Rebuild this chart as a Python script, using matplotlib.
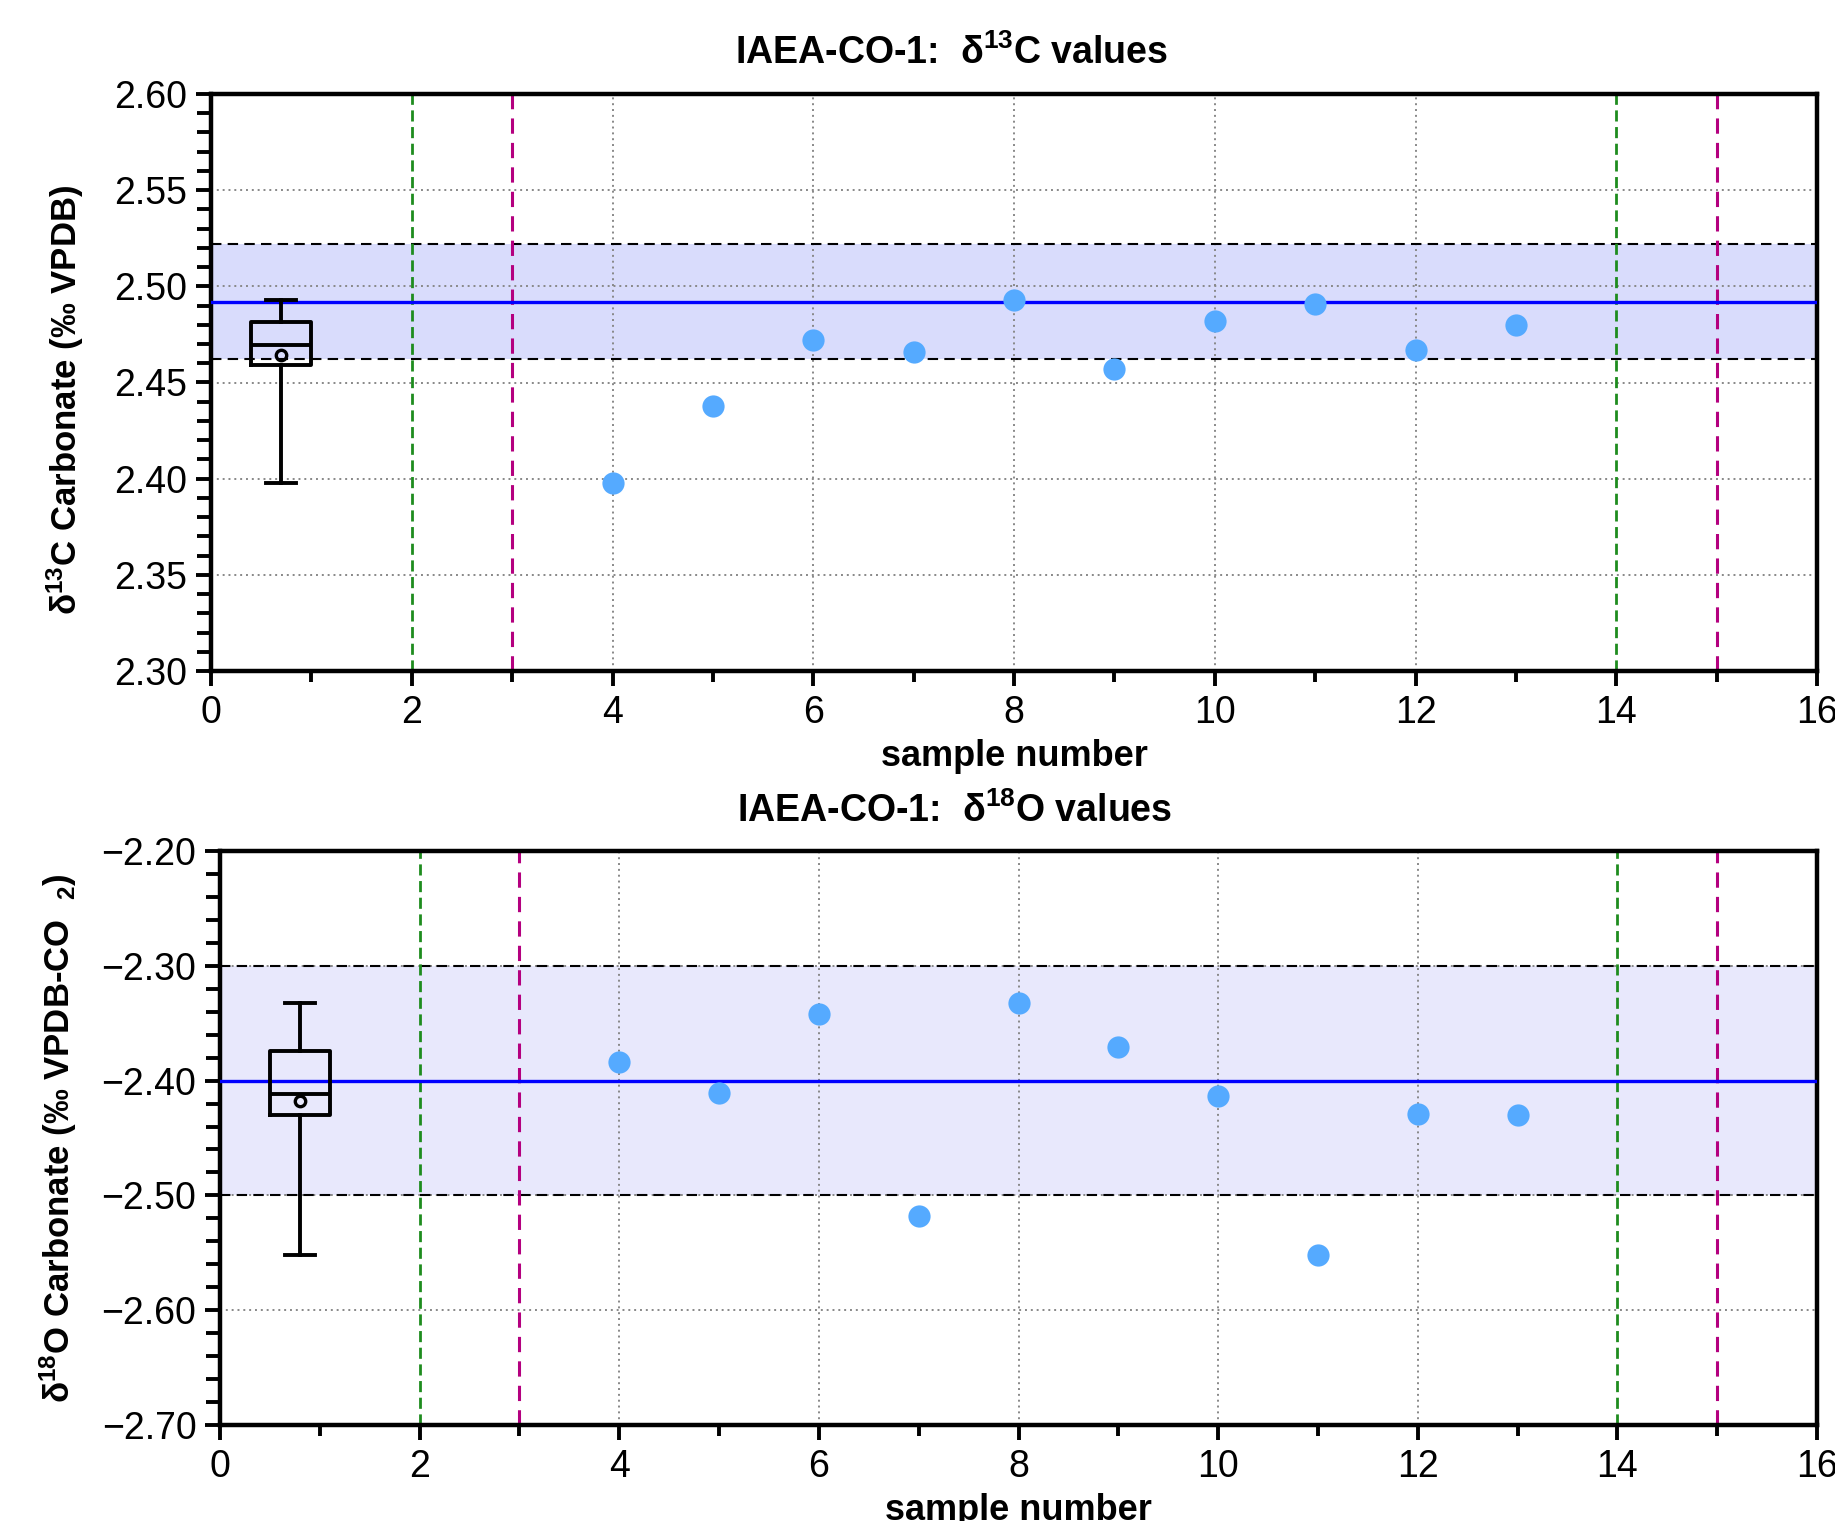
import numpy as np
import matplotlib
matplotlib.use("Agg")
import matplotlib.pyplot as plt
from matplotlib.ticker import MultipleLocator, FuncFormatter

plt.rcParams['font.family'] = ['Liberation Sans', 'DejaVu Sans']
plt.rcParams['mathtext.fontset'] = 'custom'
plt.rcParams['mathtext.rm'] = 'Liberation Sans:bold'
plt.rcParams['mathtext.it'] = 'Liberation Sans:bold'
plt.rcParams['mathtext.bf'] = 'Liberation Sans:bold'

# sample numbers and measured values
samples = [4, 5, 6, 7, 8, 9, 10, 11, 12, 13]
d13c = [2.398, 2.438, 2.472, 2.466, 2.493, 2.457, 2.482, 2.491, 2.467, 2.480]
d18o = [-2.384, -2.411, -2.342, -2.518, -2.332, -2.371, -2.413, -2.552, -2.429, -2.430]

# reference value and tolerance band (mean, low, high)
ref_c = [2.492, 2.462, 2.522]
ref_o = [-2.40, -2.50, -2.30]

# vertical marker lines
green_x = [2, 14]
magenta_x = [3, 15]

box_pos = [0.7, 0.8]


def fmt(v, pos):
    return f'{v:.2f}'.replace('-', '\u2212')


panels = [
    dict(vals=d13c, ref=ref_c, ylim=(2.30, 2.60), major=0.05, minor=0.01,
         fill='#D9DCFC', title=r'IAEA-CO-1:  δ$^{13}$C values',
         ylabel=r'δ$^{13}$C Carbonate (‰ VPDB)', box=box_pos[0],
         rect=[211 / 1835, 1 - 671 / 1521, 1606 / 1835, 577 / 1521],
         lblx=-0.078, lbly=0.47, tx=0.461),
    dict(vals=d18o, ref=ref_o, ylim=(-2.70, -2.20), major=0.10, minor=0.02,
         fill='#E8E8FC', title=r'IAEA-CO-1:  δ$^{18}$O values',
         ylabel=r'δ$^{18}$O Carbonate (‰ VPDB-CO  $_2$)', box=box_pos[1],
         rect=[220 / 1835, 1 - 1425 / 1521, 1597 / 1835, 574 / 1521],
         lblx=-0.088, lbly=0.5, tx=0.46),
]

fig = plt.figure(figsize=(18.35, 15.21), dpi=100)

for p in panels:
    ax = fig.add_axes(p['rect'])
    ax.set_xlim(0, 16)
    ax.set_ylim(*p['ylim'])
    mean, lo, hi = p['ref']

    ax.axhspan(lo, hi, color=p['fill'], zorder=0, lw=0)
    ax.axhline(lo, color='black', ls=(0, (5, 3)), lw=1.5, zorder=2)
    ax.axhline(hi, color='black', ls=(0, (5, 3)), lw=1.5, zorder=2)
    ax.axhline(mean, color='#0000FF', lw=2.4, zorder=3)

    # dotted grid
    for gx in [4, 6, 8, 10, 12]:
        ax.axvline(gx, color='#888888', ls=(0, (1, 2)), lw=1.4, zorder=1)
    yt = np.arange(p['ylim'][0], p['ylim'][1] + 1e-9, p['major'])
    for gy in yt[1:-1]:
        ax.axhline(gy, color='#888888', ls=(0, (1, 2)), lw=1.4, zorder=1)

    for gx in green_x:
        ax.axvline(gx, color='#1E8C1E', ls=(0, (4, 2)), lw=2.0, zorder=2)
    for mx in magenta_x:
        ax.axvline(mx, color='#B4007F', ls=(0, (5, 3)), lw=2.2, zorder=2)

    ax.plot(samples, p['vals'], 'o', color='#55AAFF', ms=16, mec='none', zorder=4)

    ax.boxplot(p['vals'], positions=[p['box']], widths=0.6, whis=(0, 100),
               showmeans=True, showfliers=False, manage_ticks=False,
               boxprops=dict(color='black', lw=2.8),
               whiskerprops=dict(color='black', lw=2.8),
               capprops=dict(color='black', lw=2.8),
               medianprops=dict(color='black', lw=2.8),
               meanprops=dict(marker='o', mfc='none', mec='black', mew=2.4, ms=7.5),
               zorder=5)

    ax.xaxis.set_major_locator(MultipleLocator(2))
    ax.xaxis.set_minor_locator(MultipleLocator(1))
    ax.yaxis.set_major_locator(MultipleLocator(p['major']))
    ax.yaxis.set_minor_locator(MultipleLocator(p['minor']))
    ax.yaxis.set_major_formatter(FuncFormatter(fmt))
    ax.tick_params(axis='both', which='major', labelsize=27, width=2.8, length=11, pad=6)
    ax.tick_params(axis='y', which='minor', width=2.8, length=10)
    ax.tick_params(axis='x', which='minor', width=2.8, length=8)
    for s in ax.spines.values():
        s.set_linewidth(3.2)

    ax.set_xlabel('sample number', fontsize=26, fontweight='bold', labelpad=6)
    ax.set_ylabel(p['ylabel'], fontsize=25, fontweight='bold')
    ax.yaxis.set_label_coords(p['lblx'], p['lbly'])
    ax.text(p['tx'], 1.07, p['title'], transform=ax.transAxes, ha='center',
            va='center', fontsize=27, fontweight='bold')

fig.savefig('out.png', dpi=100)
